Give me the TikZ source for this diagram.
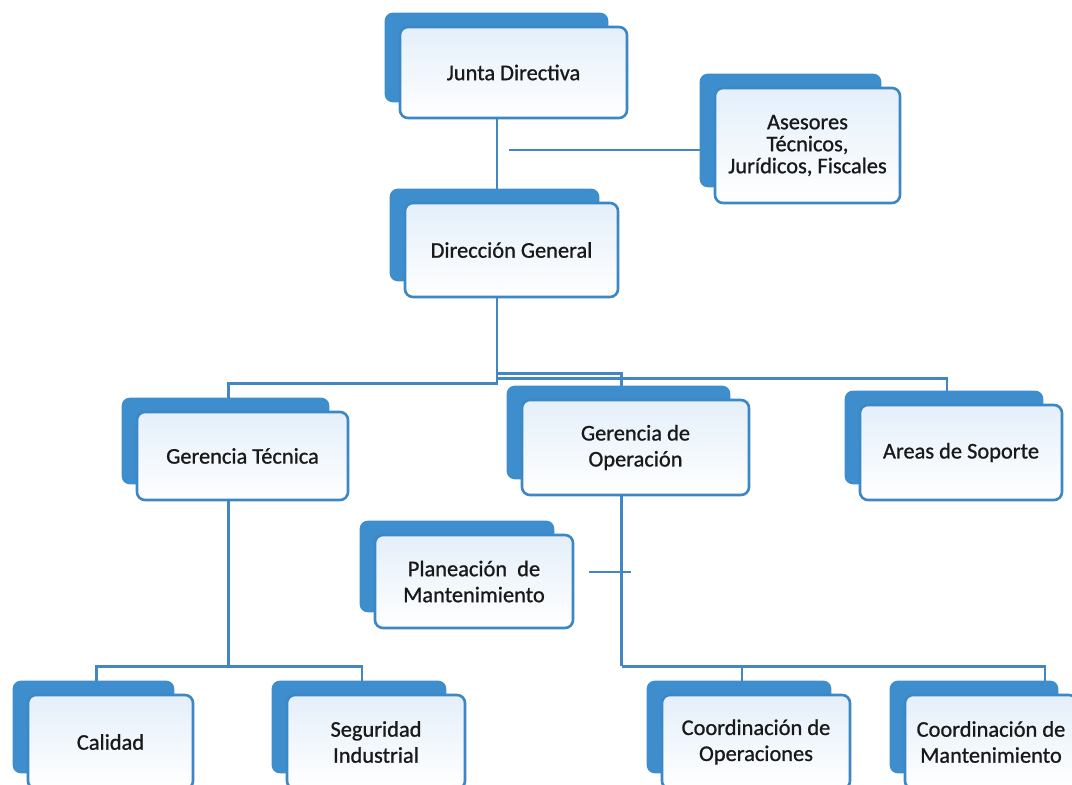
\documentclass[tikz,border=0pt]{standalone}
\usepackage{fontspec}
\setmainfont{Carlito}
\newfontfamily\boxfont{Carlito}[FakeBold=0.9]
\usetikzlibrary{calc, shapes, backgrounds}
\definecolor{tabblue}{RGB}{62,142,205}
\definecolor{edgeblue}{RGB}{60,135,197}
\definecolor{lineblue}{RGB}{66,134,196}
\definecolor{boxtop}{RGB}{228,239,250}
\definecolor{txtgray}{RGB}{25,25,25}
\tikzstyle{unit} = [draw=edgeblue, line width=1.3pt, rounded corners=4pt, top color=boxtop, bottom color=white, align=center, text=txtgray, inner sep=0pt, font=\boxfont\fontsize{11.2}{13}\selectfont]
\tikzstyle{tab} = [fill=tabblue, rounded corners=4pt]
\tikzstyle{conn} = [draw=lineblue, line width=1.4pt]

\begin{document}
\begin{tikzpicture}[x=0.5pt, y=-0.5pt]
	\useasboundingbox (0,0) rectangle (1072,785);
	\clip (0,0) rectangle (1072,785);

	% Boxes
	\node[unit, minimum width=113.5pt, minimum height=45.5pt] (junta) at (513.5,72.5) {Junta Directiva};
	\node[unit, minimum width=92.5pt, minimum height=57.5pt, font=\boxfont\fontsize{11.2}{11}\selectfont] (asesores) at (807.5,145.5) {Asesores\\Técnicos,\\Jurídicos, Fiscales};
	\node[unit, minimum width=106.5pt, minimum height=47pt] (direccion) at (511.5,250) {Dirección General};
	\node[unit, minimum width=105.5pt, minimum height=44pt] (gtecnica) at (242.5,456) {Gerencia Técnica};
	\node[unit, minimum width=113.5pt, minimum height=47.5pt] (goper) at (635.5,447.5) {Gerencia de\\Operación};
	\node[unit, minimum width=101pt, minimum height=47.5pt] (soporte) at (961,452.5) {Areas de Soporte};
	\node[unit, minimum width=99pt, minimum height=46.5pt] (planea) at (474,581.5) {Planeación\ \ de\\Mantenimiento};
	\node[unit, minimum width=82.5pt, minimum height=47pt] (calidad) at (110.5,742) {Calidad};
	\node[unit, minimum width=89pt, minimum height=47pt] (seguridad) at (376,742) {Seguridad\\Industrial};
	\node[unit, minimum width=94pt, minimum height=47pt] (coordop) at (756,742) {Coordinación de\\Operaciones};
	\node[unit, minimum width=86pt, minimum height=47pt] (coordmant) at (991,742) {Coordinación de\\Mantenimiento};

	\begin{scope}[on background layer]
		\clip (0,0) rectangle (1072,785);
		\fill[white] (0,0) rectangle (1072,785);
		% Connectors
		\coordinate (jdout) at ($(junta.south)+(-16.5,0)$);
		\draw[conn] (jdout) -- (jdout |- direccion.north);
		\draw[conn] ($(asesores.west)+(0,4.5)$) -- ++(-205,0);
		\coordinate (dgout) at ($(direccion.south)+(-14.5,0)$);
		\draw[conn] (dgout) -- ($(dgout)+(0,85)$) -| ($(gtecnica.north)+(-14,0)$);
		\draw[conn] ($(dgout)+(0,75)$) -| ($(goper.north)+(-14,0)$);
		\draw[conn] ($(dgout)+(0,80)$) -| ($(soporte.north)+(-14,0)$);
		\draw[conn] ($(gtecnica.south)+(-14,0)$) -- ++(0,165) coordinate (gtbus);
		\draw[conn] ($(calidad.north)+(-14,0)$) |- (gtbus) -| ($(seguridad.north)+(-14,0)$);
		\draw[conn] ($(goper.south)+(-14,0)$) -- ++(0,170) coordinate (gobus);
		\draw[conn] (gobus) -| ($(coordmant.north)+(54,0)$);
		\coordinate (cotop) at ($(coordop.north)+(-14,0)$);
		\draw[conn] (cotop) -- (cotop |- gobus);
		\draw[conn] ($(planea.east)+(15,-9.5)$) -- ++(42,0);
		% Tabs
		\foreach \n in {junta,asesores,direccion,gtecnica,goper,soporte,planea,calidad,seguridad,coordop,coordmant}
			\fill[tab] ($(\n.north west)+(-14,-13)$) rectangle ($(\n.south east)+(-20,-17)$);
	\end{scope}
\end{tikzpicture}
\end{document}
